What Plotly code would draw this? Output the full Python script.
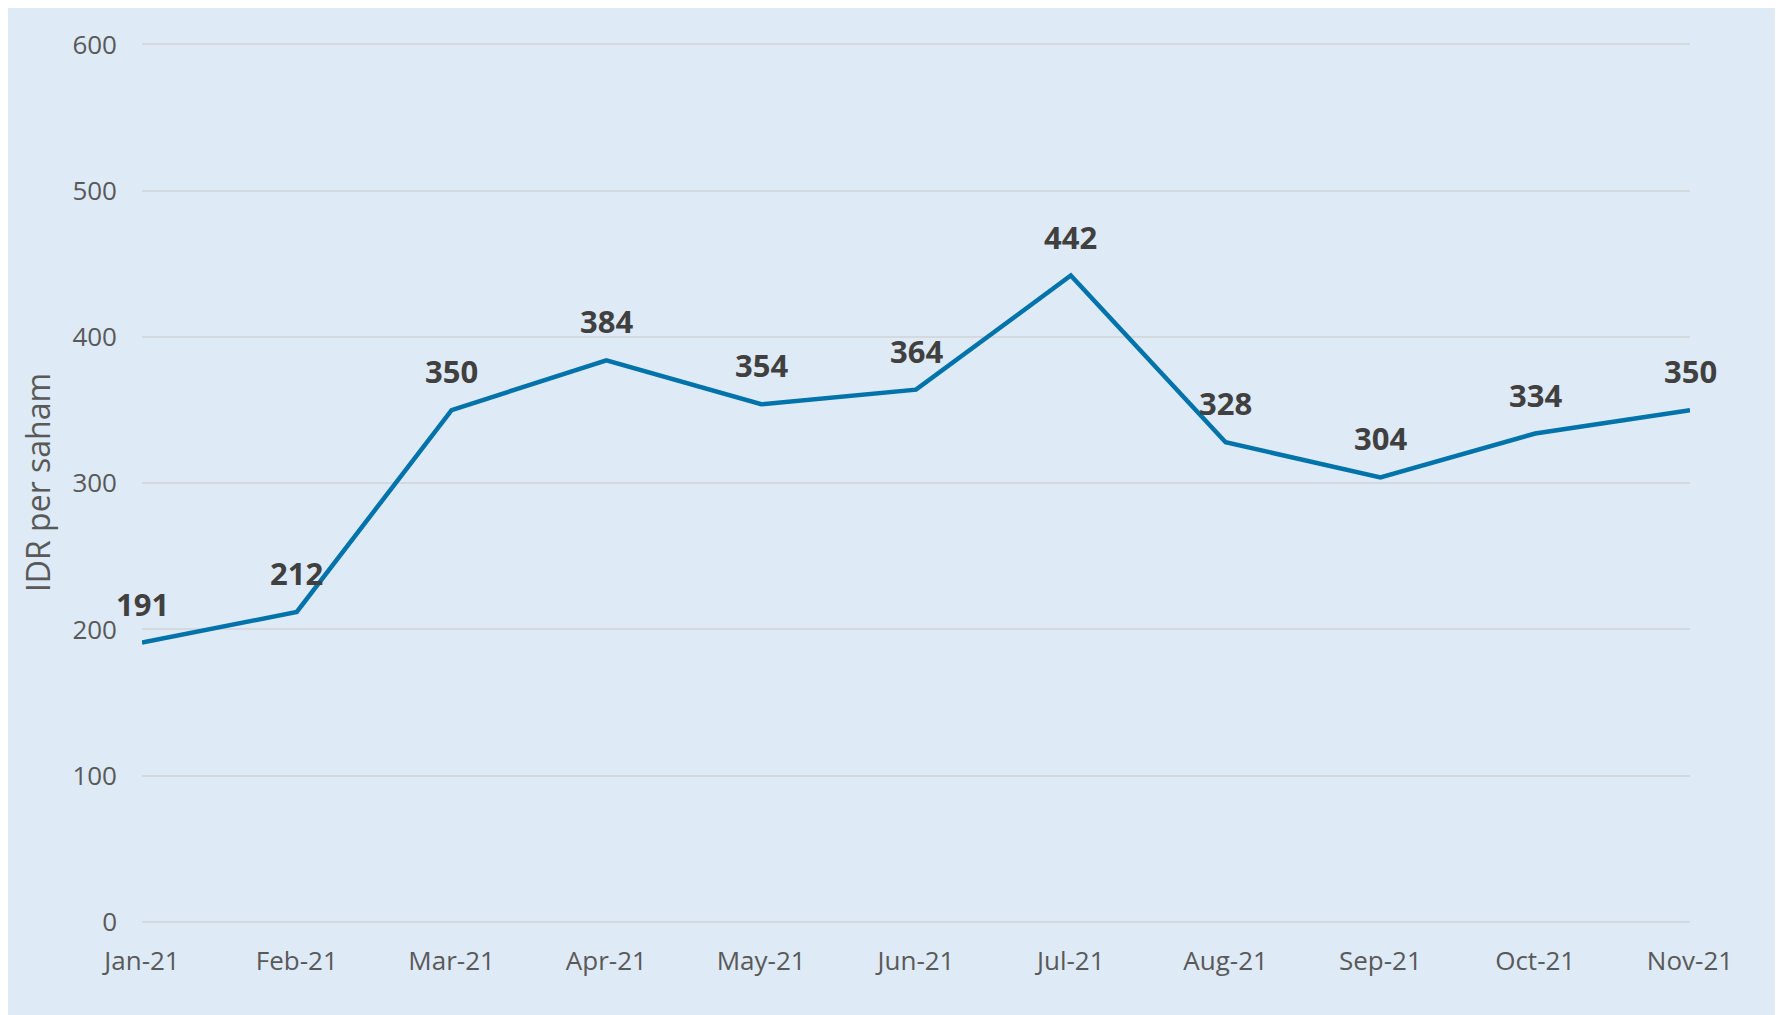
import plotly.graph_objects as go

months = ["Jan-21", "Feb-21", "Mar-21", "Apr-21", "May-21", "Jun-21",
          "Jul-21", "Aug-21", "Sep-21", "Oct-21", "Nov-21"]
values = [191, 212, 350, 384, 354, 364, 442, 328, 304, 334, 350]
y_ticks = [0, 100, 200, 300, 400, 500, 600]

BG = "#DEEAF6"
GRID = "#D3D9DF"
FONT = "Open Sans, Noto Sans, sans-serif"

fig = go.Figure()
fig.add_trace(go.Scatter(
    x=months, y=values, mode="lines",
    line=dict(color="#0073AA", width=4.5),
    hoverinfo="x+y",
))

for m, v in zip(months, values):
    fig.add_annotation(
        x=m, y=v, text=f"<b>{v}</b>", showarrow=False,
        yanchor="bottom", yshift=16,
        font=dict(family=FONT, size=31, color="#404040"),
    )

fig.update_layout(
    width=1783, height=1015,
    paper_bgcolor=BG, plot_bgcolor=BG,
    margin=dict(l=134, r=101, t=35, b=101),
    showlegend=False,
    font=dict(family=FONT, color="#595959"),
    xaxis=dict(
        type="category", range=[0, len(months) - 1],
        showgrid=False, zeroline=False, showline=False,
        tickfont=dict(size=26, color="#595959"),
        ticklabelstandoff=21,
    ),
    yaxis=dict(
        range=[0, 601], tickvals=y_ticks,
        showgrid=True, gridcolor=GRID, gridwidth=2,
        zeroline=True, zerolinecolor=GRID, zerolinewidth=2,
        showline=False,
        tickfont=dict(size=26, color="#595959"),
        ticklabelstandoff=24,
        title=dict(text="IDR per saham", font=dict(size=32, color="#595959"),
                   standoff=12),
    ),
)

fig.write_html("out.html")
